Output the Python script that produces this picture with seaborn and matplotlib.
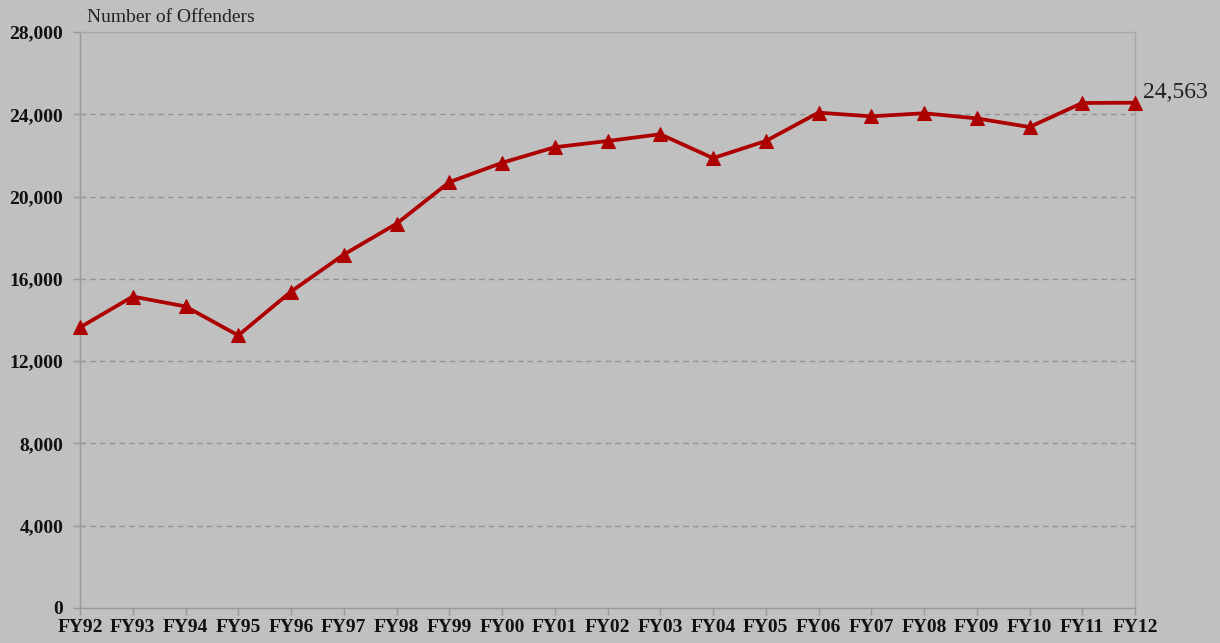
import matplotlib.pyplot as plt
import seaborn as sns
import pandas as pd

# Dados
anos = ['FY92', 'FY93', 'FY94', 'FY95', 'FY96', 'FY97', 'FY98', 'FY99', 'FY00', 'FY01',
        'FY02', 'FY03', 'FY04', 'FY05', 'FY06', 'FY07', 'FY08', 'FY09', 'FY10', 'FY11', 'FY12']
ofensores = [13640, 15140, 14660, 13250, 15380, 17180, 18680, 20700, 21640, 22400,
             22700, 23030, 21870, 22700, 24080, 23900, 24050, 23800, 23380, 24550, 24563]
yticks = [0, 4000, 8000, 12000, 16000, 20000, 24000, 28000]

df = pd.DataFrame({'ano': anos, 'ofensores': ofensores})
df['pos'] = range(len(anos))

bg = '#c0c0c0'
sns.set_style('white')
plt.rcParams['font.family'] = ['Liberation Serif', 'DejaVu Serif']

fig = plt.figure(figsize=(12.2, 6.43), dpi=100, facecolor=bg)
ax = fig.add_axes([80 / 1220, 1 - 608 / 643, (1135 - 80) / 1220, (608 - 32) / 643])
ax.set_facecolor(bg)

# Grade tracejada
for v in yticks[1:-1]:
    ax.axhline(v, color='#939393', lw=1, ls=(0, (4, 3)), zorder=1)

sns.lineplot(data=df, x='pos', y='ofensores', ax=ax, color='#ad0000', lw=2.7,
             marker='^', markersize=10.5, markeredgecolor='#ad0000', zorder=3, clip_on=False)

ax.set_xlim(0, len(anos) - 1)
ax.set_ylim(0, 28000)
ax.set_xticks(df['pos'])
ax.set_xticklabels(anos, fontsize=14, fontweight='bold', color='#111111')
ax.set_yticks(yticks)
ax.set_yticklabels([f'{v:,}' for v in yticks], fontsize=14, fontweight='bold', color='#111111')
ax.set_xlabel('')
ax.set_ylabel('')
ax.tick_params(axis='x', length=5, width=1, color='#999999', pad=3, direction='out', bottom=True)
ax.tick_params(axis='y', length=5, width=1, color='#999999', pad=7, direction='out', left=True)

for s in ax.spines.values():
    s.set_visible(True)
    s.set_color('#a8a8a8')
    s.set_linewidth(1)
ax.spines['left'].set_color('#999999')
ax.spines['bottom'].set_color('#999999')

# Titulo do eixo e rotulo final
fig.text(87 / 1220, 1 - 18 / 643, 'Number of Offenders', fontsize=14, color='#222222',
         ha='left', va='center')
ax.annotate(f'{ofensores[-1]:,}', xy=(df['pos'].iloc[-1], ofensores[-1]), xytext=(6, 7),
            textcoords='offset points', fontsize=17, color='#222222', ha='left', va='center',
            annotation_clip=False)

plt.savefig('out.png', dpi=100, facecolor=bg)
